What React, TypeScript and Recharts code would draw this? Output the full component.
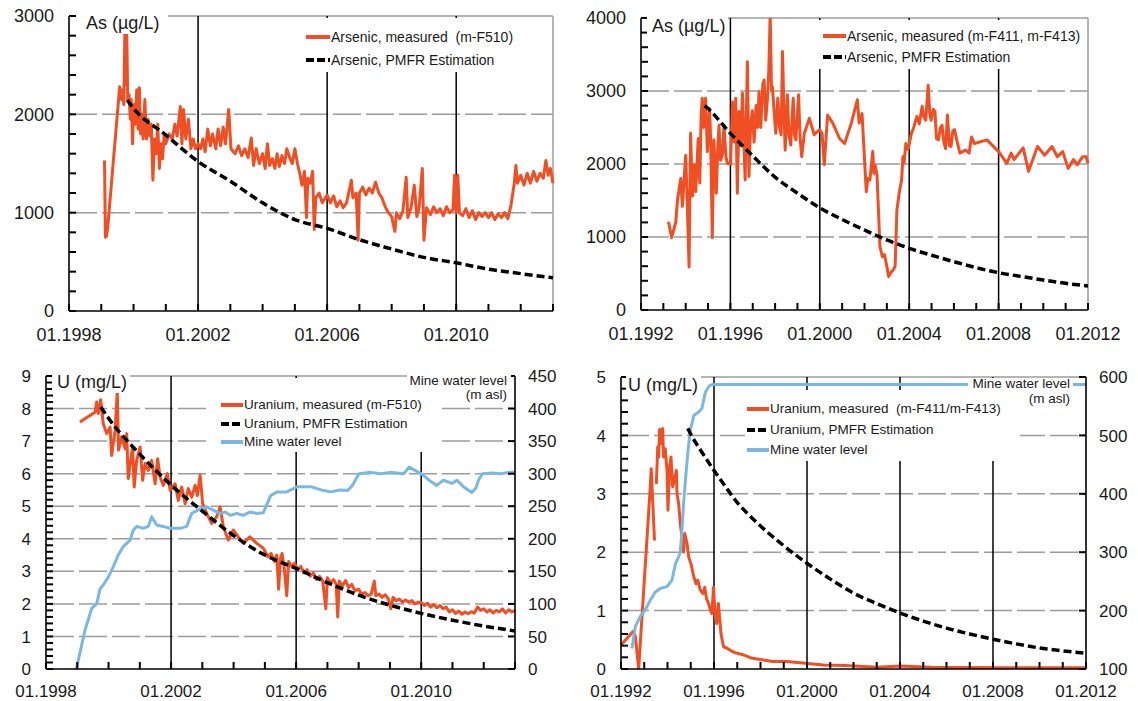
import React from "react";
import { LineChart, Line, XAxis, YAxis, ReferenceLine } from "recharts";

type Pt = [number, number | null];

// ---------- Arsenic, m-F510 (µg/L) ----------
const AS_F510_MEASURED: Pt[] = [
  [1999.1, 1530], [1999.13, 750], [1999.16, 760], [1999.2, 850], [1999.57, 2280], [1999.62, 2150],
  [1999.66, 2250], [1999.7, 2100], [1999.73, 2830], [1999.76, 2300], [1999.79, 2830], [1999.82, 2150],
  [1999.86, 2200], [1999.9, 1950], [1999.93, 2150], [1999.97, 1700], [2000.0, 2100], [2000.05, 1900],
  [2000.1, 2250], [2000.14, 1850], [2000.18, 2270], [2000.22, 1800], [2000.27, 2000], [2000.3, 1750],
  [2000.35, 2150], [2000.4, 1750], [2000.45, 1950], [2000.5, 1780], [2000.55, 1900], [2000.6, 1330],
  [2000.65, 1750], [2000.7, 1600], [2000.75, 1900], [2000.8, 1450], [2000.85, 1700], [2000.9, 1550],
  [2000.95, 1800], [2001.0, 1700], [2001.1, 1800], [2001.2, 1750], [2001.28, 1900], [2001.35, 1780],
  [2001.45, 2080], [2001.5, 1700], [2001.55, 2050], [2001.62, 1750], [2001.7, 1950], [2001.78, 1650],
  [2001.85, 1750], [2001.92, 1650], [2002.0, 1700], [2002.08, 1650], [2002.15, 1750], [2002.22, 1620],
  [2002.3, 1850], [2002.38, 1680], [2002.45, 1800], [2002.55, 1650], [2002.62, 1850], [2002.7, 1680],
  [2002.78, 1870], [2002.85, 1700], [2002.95, 2050], [2003.02, 1650], [2003.15, 1600], [2003.25, 1680],
  [2003.35, 1580], [2003.45, 1650], [2003.55, 1560], [2003.65, 1760], [2003.72, 1480], [2003.8, 1650],
  [2003.9, 1500], [2004.0, 1600], [2004.08, 1450], [2004.15, 1700], [2004.22, 1480], [2004.3, 1550],
  [2004.38, 1450], [2004.45, 1600], [2004.52, 1470], [2004.6, 1580], [2004.68, 1500], [2004.75, 1650],
  [2004.85, 1550], [2004.92, 1500], [2005.0, 1650], [2005.08, 1500], [2005.15, 1400], [2005.22, 1280],
  [2005.3, 1420], [2005.36, 950], [2005.4, 1350], [2005.48, 1300], [2005.55, 1420], [2005.6, 830],
  [2005.65, 1150], [2005.75, 1200], [2005.85, 1100], [2006.0, 1180], [2006.1, 1100], [2006.2, 1170],
  [2006.3, 1060], [2006.4, 1120], [2006.5, 1050], [2006.6, 1100], [2006.7, 1250], [2006.75, 1330],
  [2006.8, 1150], [2006.9, 1200], [2006.96, 720], [2007.0, 1200], [2007.1, 1260], [2007.2, 1180],
  [2007.3, 1250], [2007.4, 1200], [2007.5, 1310], [2007.6, 1200], [2007.7, 1150], [2007.8, 1060],
  [2007.9, 1000], [2008.0, 960], [2008.1, 810], [2008.15, 1000], [2008.25, 940], [2008.35, 1020],
  [2008.45, 1360], [2008.5, 950], [2008.6, 1050], [2008.7, 1280], [2008.78, 960], [2008.85, 1050],
  [2008.95, 1450], [2009.0, 720], [2009.08, 1050], [2009.2, 980], [2009.3, 1060], [2009.4, 1000],
  [2009.5, 1040], [2009.6, 970], [2009.7, 1060], [2009.8, 1000], [2009.9, 1030], [2009.95, 1380],
  [2010.0, 1000], [2010.05, 1380], [2010.1, 1000], [2010.2, 970], [2010.3, 1040], [2010.4, 950],
  [2010.5, 1020], [2010.6, 930], [2010.7, 1000], [2010.8, 960], [2010.9, 1000], [2011.0, 950],
  [2011.1, 1000], [2011.2, 930], [2011.3, 990], [2011.4, 950], [2011.5, 1000], [2011.6, 940],
  [2011.7, 1080], [2011.8, 1300], [2011.85, 1480], [2011.9, 1300], [2012.0, 1380], [2012.1, 1280],
  [2012.2, 1400], [2012.3, 1300], [2012.4, 1420], [2012.5, 1320], [2012.6, 1400], [2012.7, 1350],
  [2012.78, 1530], [2012.85, 1380], [2012.92, 1450], [2013.0, 1300],
];
const AS_F510_PMFR: Pt[] = [
  [1999.8, 2145], [2000.0, 2060], [2001.0, 1790], [2002.0, 1520], [2003.0, 1320], [2004.0, 1100],
  [2005.0, 930], [2006.0, 840], [2007.0, 725], [2008.0, 630], [2009.0, 545], [2010.0, 490],
  [2011.0, 425], [2012.0, 380], [2013.0, 338],
];

// ---------- Arsenic, m-F411 / m-F413 (µg/L) ----------
const AS_F411_MEASURED: Pt[] = [
  [1993.23, 1210], [1993.37, 990], [1993.56, 1210], [1993.63, 1500], [1993.78, 1800], [1993.85, 1420],
  [1994.0, 2120], [1994.07, 1470], [1994.15, 590], [1994.22, 2420], [1994.3, 1560], [1994.37, 1990],
  [1994.45, 1620], [1994.56, 2350], [1994.63, 1740], [1994.69, 2670], [1994.74, 2900], [1994.8, 2500],
  [1994.89, 2900], [1994.97, 2170], [1995.07, 2760], [1995.12, 2300], [1995.19, 990], [1995.26, 2330],
  [1995.37, 1600], [1995.43, 2200], [1995.49, 2530], [1995.56, 2050], [1995.64, 2120], [1995.71, 2530],
  [1995.8, 2100], [1995.86, 2010], [1996.01, 2000], [1996.09, 2850], [1996.17, 2300], [1996.24, 2900],
  [1996.31, 1600], [1996.39, 2720], [1996.46, 2250], [1996.54, 2970], [1996.66, 1780], [1996.76, 3400],
  [1996.83, 1830], [1996.9, 2500], [1996.98, 2730], [1997.06, 2300], [1997.15, 2800], [1997.22, 2500],
  [1997.28, 2990], [1997.36, 2500], [1997.45, 3100], [1997.51, 3150], [1997.58, 2600], [1997.66, 2900],
  [1997.72, 3300], [1997.78, 4050], [1997.84, 3000], [1997.88, 3060], [1997.96, 2700], [1998.03, 2420],
  [1998.12, 2900], [1998.2, 2500], [1998.27, 2400], [1998.33, 3540], [1998.4, 2700], [1998.45, 2190],
  [1998.55, 2950], [1998.62, 2400], [1998.7, 2260], [1998.81, 2900], [1998.87, 2400], [1998.93, 2330],
  [1999.05, 2950], [1999.12, 2350], [1999.19, 2100], [1999.31, 2420], [1999.53, 2625], [1999.75, 2400],
  [1999.98, 2470], [2000.1, 2420], [2000.2, 1990], [2000.35, 2670], [2000.58, 2560], [2000.88, 2350],
  [2001.11, 2280], [2001.4, 2550], [2001.68, 2880], [2001.76, 2560], [2001.89, 2690], [2002.08, 1620],
  [2002.15, 1800], [2002.24, 1780], [2002.37, 2170], [2002.42, 1870], [2002.48, 1980], [2002.56, 1850],
  [2002.69, 870], [2002.8, 730], [2002.89, 760], [2003.0, 600], [2003.08, 460], [2003.2, 520],
  [2003.29, 550], [2003.37, 600], [2003.45, 1370], [2003.55, 1600], [2003.66, 1780], [2003.72, 2100],
  [2003.77, 2010], [2003.85, 2280], [2003.95, 2200], [2004.1, 2420], [2004.2, 2500], [2004.34, 2650],
  [2004.45, 2550], [2004.58, 2790], [2004.65, 2650], [2004.74, 2600], [2004.85, 3080], [2004.92, 2700],
  [2004.98, 2600], [2005.08, 2750], [2005.15, 2720], [2005.22, 2350], [2005.31, 2330], [2005.4, 2500],
  [2005.47, 2530], [2005.55, 2300], [2005.63, 2210], [2005.71, 2670], [2005.8, 2250], [2005.87, 2240],
  [2005.95, 2450], [2006.03, 2470], [2006.15, 2300], [2006.27, 2150], [2006.52, 2190], [2006.68, 2150],
  [2006.79, 2370], [2006.92, 2280], [2007.48, 2330], [2008.0, 2170], [2008.37, 2010], [2008.56, 2150],
  [2008.69, 2060], [2009.1, 2220], [2009.34, 1900], [2009.74, 2240], [2010.06, 2120], [2010.39, 2240],
  [2010.63, 2100], [2010.87, 2170], [2011.11, 1940], [2011.35, 2060], [2011.52, 1990], [2011.76, 2100],
  [2011.92, 2100], [2012.0, 2010],
];
const AS_F411_PMFR: Pt[] = [
  [1994.85, 2800], [1995.0, 2760], [1996.0, 2420], [1997.0, 2110], [1998.0, 1820], [1999.0, 1600],
  [2000.0, 1400], [2001.0, 1240], [2002.0, 1096], [2003.0, 960], [2004.0, 845], [2005.0, 750],
  [2006.0, 662], [2007.0, 580], [2008.0, 511], [2009.0, 460], [2010.0, 411], [2011.0, 365], [2012.0, 329],
];

// ---------- Uranium, m-F510 (mg/L) + mine water level (m asl) ----------
const U_F510_MEASURED: Pt[] = [
  [1999.09, 7.58], [1999.17, 7.64], [1999.57, 7.89], [1999.62, 8.2], [1999.67, 7.85], [1999.75, 8.27],
  [1999.83, 7.54], [1999.94, 7.23], [2000.05, 7.43], [2000.1, 6.56], [2000.21, 7.33], [2000.28, 8.51],
  [2000.32, 6.72], [2000.42, 7.13], [2000.53, 6.77], [2000.58, 7.23], [2000.63, 5.85], [2000.71, 6.41],
  [2000.77, 6.82], [2000.82, 5.59], [2000.9, 6.41], [2001.01, 6.82], [2001.09, 5.8], [2001.17, 6.31],
  [2001.27, 6.1], [2001.38, 6.41], [2001.49, 5.69], [2001.57, 6.46], [2001.65, 5.9], [2001.75, 5.64],
  [2001.88, 6.0], [2001.97, 5.49], [2002.13, 5.69], [2002.23, 5.18], [2002.34, 5.59], [2002.45, 5.08],
  [2002.55, 5.54], [2002.66, 5.28], [2002.77, 5.64], [2002.84, 5.33], [2002.93, 5.95], [2003.01, 5.08],
  [2003.14, 4.78], [2003.3, 4.47], [2003.46, 4.68], [2003.57, 4.98], [2003.67, 4.37], [2003.83, 3.96],
  [2003.99, 4.27], [2004.15, 4.06], [2004.31, 3.86], [2004.52, 4.06], [2004.74, 3.86], [2004.95, 3.71],
  [2005.1, 3.45], [2005.2, 3.55], [2005.3, 3.3], [2005.38, 3.5], [2005.44, 2.45], [2005.5, 3.4],
  [2005.55, 3.55], [2005.62, 3.1], [2005.7, 2.25], [2005.76, 3.3], [2005.85, 3.15], [2005.95, 3.25],
  [2006.05, 3.05], [2006.15, 3.15], [2006.25, 2.95], [2006.35, 3.05], [2006.45, 2.85], [2006.55, 2.95],
  [2006.65, 2.75], [2006.75, 2.85], [2006.85, 2.7], [2006.95, 1.85], [2007.0, 2.8], [2007.1, 2.65],
  [2007.2, 2.75], [2007.28, 2.6], [2007.33, 1.6], [2007.38, 2.7], [2007.48, 2.55], [2007.58, 2.72],
  [2007.68, 2.5], [2007.78, 2.6], [2007.88, 2.4], [2008.0, 2.45], [2008.1, 2.3], [2008.2, 2.35],
  [2008.3, 2.25], [2008.4, 2.3], [2008.5, 2.7], [2008.55, 2.25], [2008.65, 2.3], [2008.75, 2.2],
  [2008.85, 2.28], [2008.95, 2.15], [2009.03, 1.85], [2009.1, 2.2], [2009.2, 2.1], [2009.3, 2.15],
  [2009.4, 2.05], [2009.5, 2.12], [2009.6, 2.05], [2009.7, 2.1], [2009.8, 2.0], [2009.9, 2.05],
  [2010.0, 2.05], [2010.1, 1.95], [2010.2, 2.02], [2010.3, 1.9], [2010.4, 1.98], [2010.5, 1.88],
  [2010.6, 1.95], [2010.7, 1.85], [2010.8, 1.9], [2010.9, 1.75], [2011.0, 1.82], [2011.1, 1.7],
  [2011.2, 1.78], [2011.3, 1.68], [2011.4, 1.75], [2011.5, 1.7], [2011.6, 1.76], [2011.7, 1.72],
  [2011.8, 1.9], [2011.9, 1.8], [2012.0, 1.85], [2012.1, 1.75], [2012.2, 1.82], [2012.3, 1.72],
  [2012.4, 1.8], [2012.5, 1.75], [2012.6, 1.85], [2012.7, 1.72], [2012.8, 1.82], [2012.9, 1.75],
  [2013.0, 1.8],
];
const U_F510_PMFR: Pt[] = [
  [1999.75, 8.05], [2000.0, 7.7], [2001.0, 6.6], [2002.0, 5.65], [2003.0, 4.85], [2004.0, 4.1],
  [2005.0, 3.5], [2006.0, 3.09], [2007.0, 2.65], [2008.0, 2.27], [2009.0, 1.96], [2010.0, 1.71],
  [2011.0, 1.5], [2012.0, 1.32], [2013.0, 1.17],
];
const MWL_F510: Pt[] = [
  [1998.97, 0], [1999.25, 60], [1999.46, 93], [1999.62, 100], [1999.73, 123], [1999.83, 129],
  [1999.99, 141], [2000.15, 157], [2000.31, 175], [2000.47, 188], [2000.69, 198], [2000.79, 213],
  [2000.9, 219], [2001.11, 216], [2001.27, 219], [2001.38, 234], [2001.54, 221], [2001.75, 219],
  [2001.97, 216], [2002.3, 216], [2002.5, 219], [2002.66, 239], [2002.93, 246], [2003.14, 249],
  [2003.35, 244], [2003.57, 239], [2003.73, 241], [2003.89, 236], [2004.1, 239], [2004.3, 236],
  [2004.52, 241], [2004.73, 239], [2004.95, 240], [2005.18, 266], [2005.39, 272], [2005.7, 272],
  [2006.04, 280], [2006.47, 280], [2006.8, 275], [2007.11, 272], [2007.4, 275], [2007.64, 274],
  [2007.8, 282], [2008.01, 300], [2008.39, 302], [2008.7, 300], [2009.0, 302], [2009.45, 300],
  [2009.61, 310], [2009.8, 305], [2010.0, 300], [2010.25, 290], [2010.5, 282], [2010.71, 290],
  [2010.98, 285], [2011.14, 290], [2011.35, 280], [2011.5, 275], [2011.62, 271], [2011.75, 278],
  [2011.83, 290], [2011.96, 300], [2012.3, 301], [2012.53, 300], [2012.8, 302], [2013.0, 302],
];

// ---------- Uranium, m-F411 / m-F413 (mg/L) + mine water level (m asl) ----------
const U_F411_MEASURED: Pt[] = [
  [1992.0, 0.41], [1992.54, 0.65], [1992.62, 0.55], [1992.76, 0.0], [1993.0, 1.5], [1993.26, 3.12],
  [1993.3, 3.43], [1993.44, 2.2], [1993.47, null], [1993.52, 3.17], [1993.58, 3.8], [1993.62, 3.63],
  [1993.66, 4.1], [1993.73, 3.86], [1993.79, 4.12], [1993.83, 3.63], [1993.9, 3.77], [1993.98, 3.4],
  [1994.02, 2.72], [1994.09, 3.46], [1994.15, 3.63], [1994.22, 3.12], [1994.29, 3.23], [1994.38, 3.4],
  [1994.41, 3.0], [1994.48, 2.83], [1994.55, 2.49], [1994.62, 2.26], [1994.69, 2.0], [1994.74, 2.32],
  [1994.84, 2.15], [1994.91, 1.92], [1995.01, 1.8], [1995.13, 1.58], [1995.23, 1.46], [1995.3, 1.52],
  [1995.41, 1.35], [1995.53, 1.29], [1995.6, 1.4], [1995.68, 1.2], [1995.77, 1.12], [1995.85, 1.0],
  [1995.91, 0.95], [1995.98, 1.4], [1996.05, 0.9], [1996.12, 0.78], [1996.19, 1.12], [1996.3, 0.61],
  [1996.41, 0.38], [1996.55, 0.36], [1996.7, 0.32], [1996.9, 0.28], [1997.28, 0.24], [1997.59, 0.19],
  [1998.06, 0.16], [1998.52, 0.13], [1999.14, 0.13], [1999.92, 0.1], [2000.7, 0.07], [2001.63, 0.06],
  [2003.03, 0.03], [2004.0, 0.05], [2005.35, 0.03], [2008.46, 0.02], [2012.0, 0.02],
];
const U_F411_PMFR: Pt[] = [
  [1994.87, 4.12], [1995.0, 4.02], [1995.5, 3.7], [1996.0, 3.4], [1996.5, 3.12], [1997.0, 2.85],
  [1997.5, 2.64], [1998.0, 2.45], [1999.0, 2.11], [2000.0, 1.81], [2001.0, 1.54], [2002.0, 1.3],
  [2003.0, 1.12], [2004.0, 0.96], [2005.0, 0.82], [2006.0, 0.7], [2007.0, 0.6], [2008.0, 0.51],
  [2009.0, 0.43], [2010.0, 0.36], [2011.0, 0.31], [2012.0, 0.27],
];
const MWL_F411: Pt[] = [
  [1992.47, 135], [1992.62, 173], [1992.83, 190], [1993.04, 201], [1993.26, 218], [1993.48, 232],
  [1993.69, 238], [1993.98, 241], [1994.19, 252], [1994.34, 280], [1994.48, 292], [1994.55, 300],
  [1994.62, 337], [1994.69, 383], [1994.77, 423], [1994.87, 469], [1994.98, 508], [1995.13, 534],
  [1995.34, 540], [1995.48, 546], [1995.63, 574], [1995.8, 585], [1995.92, 587], [2012.0, 587],
];

// ---------- axis labels ----------
const X_LABELS_A = [1998, 2002, 2006, 2010];
const X_LABELS_B = [1992, 1996, 2000, 2004, 2008, 2012];
const Y_LABELS_AS1 = [0, 1000, 2000, 3000];
const Y_LABELS_AS2 = [0, 1000, 2000, 3000, 4000];
const Y_LABELS_U1 = [0, 1, 2, 3, 4, 5, 6, 7, 8, 9];
const Y_LABELS_U2 = [0, 1, 2, 3, 4, 5];
const R_LABELS_1 = [0, 50, 100, 150, 200, 250, 300, 350, 400, 450];
const R_LABELS_2 = [100, 200, 300, 400, 500, 600];

const FONT = '"Liberation Sans", Arial, Helvetica, sans-serif';
const ORANGE = "#F04E23";
const BLUE = "#7AB8E4";
const GRAY = "#9c9c9c";
const INK = "#1a1a1a";
const TICK = 7; // inward tick length, px

const rows = (pts: Pt[]) => pts.map(([t, v]) => ({ t, v }));
const steps = (from: number, to: number, step: number) => {
  const n = Math.round((to - from) / step);
  return Array.from({ length: n + 1 }, (_, i) => +(from + i * step).toFixed(2));
};
const has = (list: number[], v: number) => list.some((l) => Math.abs(l - v) < 1e-6);

type SeriesDef = {
  data: Pt[];
  color: string;
  width: number;
  dash?: string;
  right?: boolean;
  smooth?: boolean;
};

type PanelDef = {
  box: { left: number; top: number; width: number; height: number };
  plot: { x0: number; y0: number; x1: number; y1: number };
  xDomain: [number, number];
  xLabels: number[];
  yDomain: [number, number];
  yStep: number;
  yLabels: number[];
  rDomain?: [number, number];
  rLabels?: number[];
  hGrid: number[];
  vGrid: number[];
  fontSize: number;
  xLabelOffset: number;
  series: SeriesDef[];
};

const axisLine = { stroke: "#000", strokeWidth: 1.6 };
const tickLine = { stroke: "#000", strokeWidth: 2 };

const Panel = ({ p }: { p: PanelDef }) => {
  const { box, plot } = p;
  const yw = plot.x0 - box.left;
  const rw = box.left + box.width - plot.x1;
  const xh = box.top + box.height - plot.y1;
  const xTicks = steps(p.xDomain[0], p.xDomain[1], 1);
  const yTicks = steps(p.yDomain[0], p.yDomain[1], p.yStep);

  // negative tickSize turns the tick marks inward; the label anchor then sits TICK px inside the axis
  const leftTick = (t: any) => {
    const v = t.payload.value;
    if (!has(p.yLabels, v)) return <g />;
    return (
      <text x={t.x - TICK - 15} y={t.y} dy="0.36em" textAnchor="end" fontSize={p.fontSize} fontFamily={FONT} fill={INK}>
        {v}
      </text>
    );
  };
  const rightTick = (t: any) => (
    <text x={t.x + TICK + 13} y={t.y} dy="0.36em" textAnchor="start" fontSize={p.fontSize} fontFamily={FONT} fill={INK}>
      {t.payload.value}
    </text>
  );
  const bottomTick = (t: any) => {
    const v = t.payload.value;
    if (!has(p.xLabels, v)) return <g />;
    return (
      <text x={t.x} y={t.y + TICK + p.xLabelOffset} textAnchor="middle" fontSize={p.fontSize} fontFamily={FONT} fill={INK}>
        {`01.${v}`}
      </text>
    );
  };

  return (
    <div style={{ position: "absolute", left: box.left, top: box.top }}>
      <LineChart
        width={box.width}
        height={box.height}
        margin={{ top: plot.y0 - box.top, right: p.rDomain ? 0 : rw, bottom: 0, left: 0 }}
      >
        {p.hGrid.map((v) => (
          <ReferenceLine key={`h${v}`} yAxisId="l" y={v} stroke={GRAY} strokeWidth={1.5} strokeDasharray="28 5" />
        ))}
        <ReferenceLine yAxisId="l" y={p.yDomain[1]} stroke={GRAY} strokeWidth={1.5} />
        {!p.rDomain && <ReferenceLine yAxisId="l" x={p.xDomain[1]} stroke={GRAY} strokeWidth={1.5} />}
        {p.vGrid.map((v) => (
          <ReferenceLine key={`v${v}`} yAxisId="l" x={v} stroke="#000" strokeWidth={1.5} />
        ))}
        <XAxis
          type="number"
          dataKey="t"
          domain={p.xDomain}
          ticks={xTicks}
          interval={0}
          height={xh}
          tickLine={tickLine}
          tickSize={-TICK}
          tickMargin={0}
          tick={bottomTick}
          axisLine={axisLine}
        />
        <YAxis
          yAxisId="l"
          type="number"
          domain={p.yDomain}
          ticks={yTicks}
          interval={0}
          allowDataOverflow
          width={yw}
          tickLine={tickLine}
          tickSize={-TICK}
          tickMargin={0}
          tick={leftTick}
          axisLine={axisLine}
        />
        {p.rDomain && (
          <YAxis
            yAxisId="r"
            orientation="right"
            type="number"
            domain={p.rDomain}
            ticks={p.rLabels}
            interval={0}
            width={rw}
            tickLine={tickLine}
            tickSize={-TICK}
            tickMargin={0}
            tick={rightTick}
            axisLine={axisLine}
          />
        )}
        {p.series.map((s, i) => (
          <Line
            key={i}
            yAxisId={s.right ? "r" : "l"}
            data={rows(s.data)}
            dataKey="v"
            type={s.smooth ? "monotone" : "linear"}
            stroke={s.color}
            strokeWidth={s.width}
            strokeDasharray={s.dash}
            strokeLinejoin="round"
            dot={false}
            activeDot={false}
            connectNulls={false}
            isAnimationActive={false}
          />
        ))}
      </LineChart>
    </div>
  );
};

type KeyRow = { y: number; label: string; color: string; dash?: string };

const KeyBox = ({
  left, top, width, height, sampleX, textX, fontSize, items,
}: {
  left: number; top: number; width: number; height: number;
  sampleX: number; textX: number; fontSize: number; items: KeyRow[];
}) => (
  <div style={{ position: "absolute", left, top, width, height, background: "#fff" }}>
    {items.map((it) => (
      <React.Fragment key={it.label}>
        <svg
          width={textX - sampleX}
          height={8}
          style={{ position: "absolute", left: sampleX - left, top: it.y - top - 4 }}
        >
          <line x1={0} x2={textX - sampleX} y1={4} y2={4} stroke={it.color} strokeWidth={4} strokeDasharray={it.dash} />
        </svg>
        <div
          style={{
            position: "absolute",
            left: textX - left + 1,
            top: it.y - top,
            transform: "translateY(-50%)",
            fontFamily: FONT,
            fontSize,
            lineHeight: 1,
            color: INK,
            whiteSpace: "pre",
          }}
        >
          {it.label}
        </div>
      </React.Fragment>
    ))}
  </div>
);

// white-backed text block; align right anchors the text end at textX
const Label = ({
  left, top, width, height, textX, textY, align, text, fontSize,
}: {
  left: number; top: number; width: number; height: number;
  textX: number; textY: number; align: "left" | "right"; text: string; fontSize: number;
}) => (
  <div style={{ position: "absolute", left, top, width, height, background: "#fff" }}>
    <div
      style={{
        position: "absolute",
        top: textY - top,
        transform: align === "right" ? "translate(-100%, -50%)" : "translateY(-50%)",
        left: textX - left,
        fontFamily: FONT,
        fontSize,
        lineHeight: 1,
        color: INK,
        whiteSpace: "pre",
      }}
    >
      {text}
    </div>
  </div>
);

const PANEL_AS1: PanelDef = {
  box: { left: 0, top: 0, width: 572, height: 352 },
  plot: { x0: 69, y0: 16, x1: 553, y1: 311 },
  xDomain: [1998, 2013],
  xLabels: X_LABELS_A,
  yDomain: [0, 3000],
  yStep: 200,
  yLabels: Y_LABELS_AS1,
  hGrid: [1000, 2000],
  vGrid: [2002, 2006, 2010],
  fontSize: 18,
  xLabelOffset: 30,
  series: [
    { data: AS_F510_MEASURED, color: ORANGE, width: 3 },
    { data: AS_F510_PMFR, color: "#000", width: 3.5, dash: "8 4", smooth: true },
  ],
};

const PANEL_AS2: PanelDef = {
  box: { left: 580, top: 0, width: 558, height: 352 },
  plot: { x0: 641, y0: 18, x1: 1088, y1: 310 },
  xDomain: [1992, 2012],
  xLabels: X_LABELS_B,
  yDomain: [0, 4000],
  yStep: 200,
  yLabels: Y_LABELS_AS2,
  hGrid: [1000, 2000, 3000],
  vGrid: [1996, 2000, 2004, 2008],
  fontSize: 18,
  xLabelOffset: 30,
  series: [
    { data: AS_F411_MEASURED, color: ORANGE, width: 3 },
    { data: AS_F411_PMFR, color: "#000", width: 3.5, dash: "8 4", smooth: true },
  ],
};

const PANEL_U1: PanelDef = {
  box: { left: 0, top: 356, width: 572, height: 345 },
  plot: { x0: 46, y0: 376, x1: 515, y1: 669 },
  xDomain: [1998, 2013],
  xLabels: X_LABELS_A,
  yDomain: [0, 9],
  yStep: 0.2,
  yLabels: Y_LABELS_U1,
  rDomain: [0, 450],
  rLabels: R_LABELS_1,
  hGrid: [1, 2, 3, 4, 5, 6, 7, 8],
  vGrid: [2002, 2006, 2010],
  fontSize: 17,
  xLabelOffset: 28,
  series: [
    { data: U_F510_MEASURED, color: ORANGE, width: 3 },
    { data: MWL_F510, color: BLUE, width: 3, right: true },
    { data: U_F510_PMFR, color: "#000", width: 3.5, dash: "8 4", smooth: true },
  ],
};

const PANEL_U2: PanelDef = {
  box: { left: 576, top: 356, width: 562, height: 345 },
  plot: { x0: 621, y0: 377, x1: 1086, y1: 669 },
  xDomain: [1992, 2012],
  xLabels: X_LABELS_B,
  yDomain: [0, 5],
  yStep: 0.2,
  yLabels: Y_LABELS_U2,
  rDomain: [100, 600],
  rLabels: R_LABELS_2,
  hGrid: [1, 2, 3, 4],
  vGrid: [1996, 2000, 2004, 2008],
  fontSize: 17,
  xLabelOffset: 28,
  series: [
    { data: U_F411_MEASURED, color: ORANGE, width: 3 },
    { data: MWL_F411, color: BLUE, width: 3, right: true },
    { data: U_F411_PMFR, color: "#000", width: 3.5, dash: "8 4", smooth: true },
  ],
};

export default function App() {
  return (
    <div
      style={{
        position: "fixed",
        left: 0,
        top: 0,
        width: 1138,
        height: 701,
        background: "#fff",
        overflow: "hidden",
      }}
    >
      <Panel p={PANEL_AS1} />
      <Panel p={PANEL_AS2} />
      <Panel p={PANEL_U1} />
      <Panel p={PANEL_U2} />

      {/* legends */}
      <KeyBox
        left={300} top={18} width={222} height={54} sampleX={306} textX={330} fontSize={14}
        items={[
          { y: 37, label: "Arsenic, measured  (m-F510)", color: ORANGE },
          { y: 60, label: "Arsenic, PMFR Estimation", color: "#000", dash: "8 3" },
        ]}
      />
      <KeyBox
        left={815} top={20} width={265} height={49} sampleX={823} textX={846} fontSize={14}
        items={[
          { y: 36, label: "Arsenic, measured (m-F411, m-F413)", color: ORANGE },
          { y: 57, label: "Arsenic, PMFR Estimation", color: "#000", dash: "8 3" },
        ]}
      />
      <KeyBox
        left={207} top={378} width={233} height={74} sampleX={221} textX={243} fontSize={13.5}
        items={[
          { y: 405, label: "Uranium, measured (m-F510)", color: ORANGE },
          { y: 424, label: "Uranium, PMFR Estimation", color: "#000", dash: "8 3" },
          { y: 442, label: "Mine water level", color: BLUE },
        ]}
      />
      <KeyBox
        left={745} top={390} width={275} height={71} sampleX={747} textX={769} fontSize={13.5}
        items={[
          { y: 409, label: "Uranium, measured  (m-F411/m-F413)", color: ORANGE },
          { y: 430, label: "Uranium, PMFR Estimation", color: "#000", dash: "8 3" },
          { y: 450, label: "Mine water level", color: BLUE },
        ]}
      />

      {/* titles */}
      <Label left={76} top={12} width={92} height={22} textX={86} textY={23} align="left" text="As (µg/L)" fontSize={18} />
      <Label left={647} top={14} width={81} height={22} textX={652} textY={26} align="left" text="As (µg/L)" fontSize={18} />
      <Label left={52} top={371} width={78} height={22} textX={57} textY={382} align="left" text="U (mg/L)" fontSize={18} />
      <Label left={626} top={374} width={75} height={22} textX={628} textY={385} align="left" text="U (mg/L)" fontSize={18} />

      {/* mine water level axis captions */}
      <Label left={407} top={372} width={104} height={17} textX={507} textY={381} align="right" text="Mine water level" fontSize={13.5} />
      <Label left={462} top={389} width={49} height={13} textX={507} textY={395} align="right" text="(m asl)" fontSize={13.5} />
      <Label left={968} top={378} width={105} height={14} textX={1070} textY={384} align="right" text="Mine water level" fontSize={13.5} />
      <Label left={1026} top={392} width={47} height={14} textX={1070} textY={399} align="right" text="(m asl)" fontSize={13.5} />
    </div>
  );
}
